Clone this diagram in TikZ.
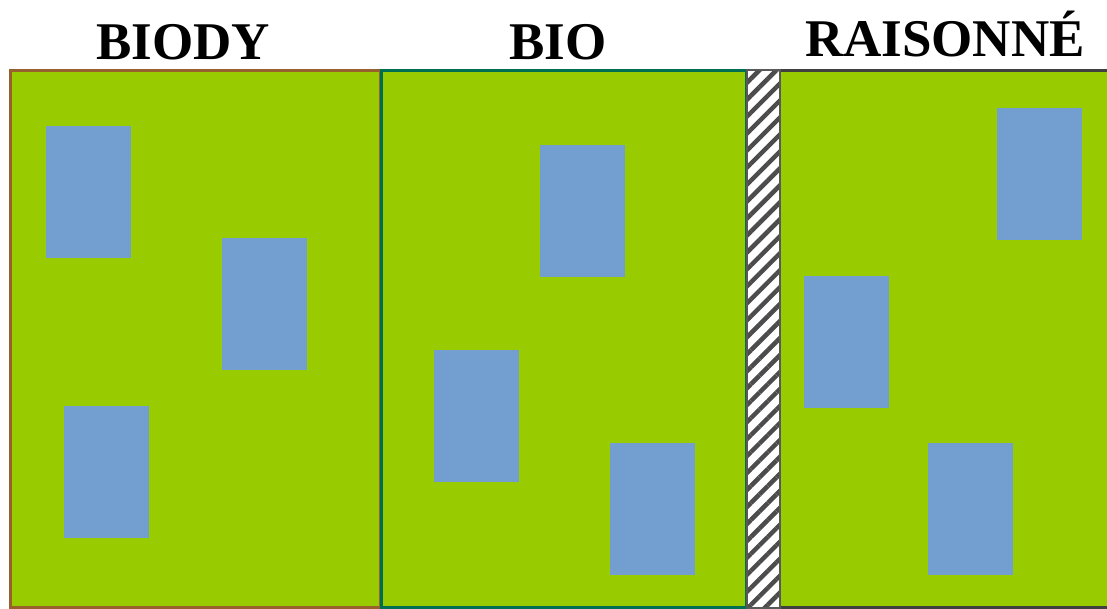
\documentclass[tikz,border=0pt]{standalone}
\usepackage{fontspec}
\setmainfont{Liberation Serif}
\usetikzlibrary{patterns.meta}
\definecolor{FieldGreen}{RGB}{153,204,0}
\definecolor{PlotBlue}{RGB}{114,159,207}
\definecolor{BiodyBrown}{RGB}{152,96,44}
\definecolor{BioTeal}{RGB}{0,110,80}
\definecolor{RaisGray}{RGB}{64,64,64}
\tikzset{
  field/.style={fill=FieldGreen,line width=3pt},
  plot/.style={fill=PlotBlue},
  title/.style={font=\bfseries\fontsize{53}{60}\selectfont,anchor=base,inner sep=0pt},
  hedge/.style={draw=black!65,line width=2pt,
    pattern={Lines[angle=45,distance=12pt,line width=4.5pt]},pattern color=black!70},
}

\begin{document}
\begin{tikzpicture}[x=1pt,y=-1pt]
  \useasboundingbox (0,0) rectangle (1107,609);

  % Three fields, separated by a hedge
  \draw[field,draw=BiodyBrown] (10.5,70.5) rectangle (380,607.5);
  \draw[field,draw=BioTeal] (381,70.5) rectangle (746,607.5);
  \fill[FieldGreen] (780,70) rectangle (1107,609);
  \draw[RaisGray,line width=3pt] (780,70.5) -- (1107,70.5);
  \draw[RaisGray,line width=3pt] (780,607.5) -- (1107,607.5);
  \draw[hedge] (747,70.5) rectangle (780,608);

  % Plots
  \foreach \x/\y in {46/126,222/238,64/406,540/145,434/350,610/443,997/108,804/276,928/443}
    \fill[plot] (\x,\y) rectangle ++(85,132);

  % Titles
  \node[title] (biody) at (183,60) {BIODY};
  \node[title] (bio) at (558,60) {BIO};
  \node[title] (rais) at (945,57) {RAISONNÉ};
\end{tikzpicture}
\end{document}
